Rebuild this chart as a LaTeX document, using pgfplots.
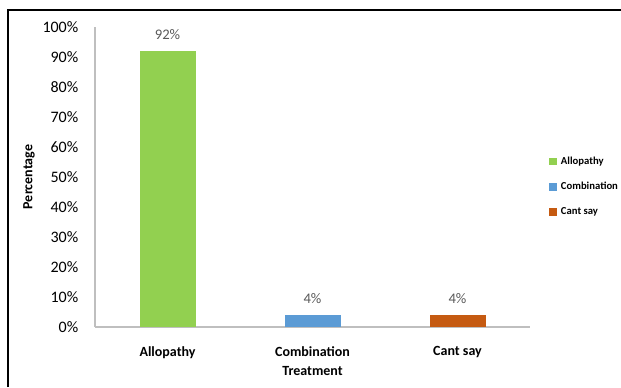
\documentclass[border=0pt]{standalone}
\usepackage{pgfplots}
\pgfplotsset{compat=1.18}
\usepackage{fontspec}
\setmainfont{Carlito}
\definecolor{cgreen}{HTML}{92D050}
\definecolor{cblue}{HTML}{5B9BD5}
\definecolor{corange}{HTML}{C55A11}
\definecolor{tgray}{HTML}{595959}
\definecolor{agray}{HTML}{BFBFBF}
\begin{document}
\begin{tikzpicture}
\useasboundingbox (0pt,0pt) rectangle (465.75pt,290.25pt);
\draw[line width=1.4pt,black] (6pt,0pt) -- (6pt,282.75pt) -- (465.75pt,282.75pt);
\begin{axis}[
  at={(71.25pt,45pt)}, anchor=south west,
  scale only axis, width=326.25pt, height=225pt,
  ybar, bar width=42pt, bar shift=0pt,
  xmin=-0.5, xmax=2.5, ymin=0, ymax=100,
  xtick={0,1,2},
  xticklabels={Allopathy,Combination\\Treatment,Cant say},
  xticklabel style={font=\bfseries\fontsize{10.5}{14.5}\selectfont, align=center, text=black, yshift=-11pt},
  ytick={0,10,...,100},
  yticklabel={\pgfmathprintnumber{\tick}\%},
  yticklabel style={font=\fontsize{12}{14}\selectfont, text=black, xshift=-9pt},
  /pgf/number format/assume math mode=true,
  ylabel={\bfseries Percentage},
  ylabel style={font=\fontsize{10.5}{12}\selectfont, yshift=-1pt},
  major tick length=0pt,
  axis x line*=bottom, axis y line*=left,
  axis line style={agray, line width=0.8pt},
  x axis line style={-}, y axis line style={-},
  nodes near coords={\pgfmathprintnumber{\pgfplotspointmeta}\%},
  nodes near coords style={font=\fontsize{11}{13}\selectfont, text=tgray, yshift=5pt},
  legend style={at={(1.035,0.468)}, anchor=west, draw=none, fill=none,
    font=\bfseries\fontsize{8}{9}\selectfont, row sep=8pt,
    /tikz/every odd column/.append style={column sep=1pt}},
  legend cell align=left,
  legend image code/.code={\fill[#1] (0pt,-2.8pt) rectangle (5.6pt,2.8pt);},
]
\addplot[fill=cgreen, draw=none] coordinates {(0,92)};
\addplot[fill=cblue, draw=none] coordinates {(1,4)};
\addplot[fill=corange, draw=none] coordinates {(2,4)};
\legend{Allopathy,Combination,Cant say}
\end{axis}
\end{tikzpicture}
\end{document}
